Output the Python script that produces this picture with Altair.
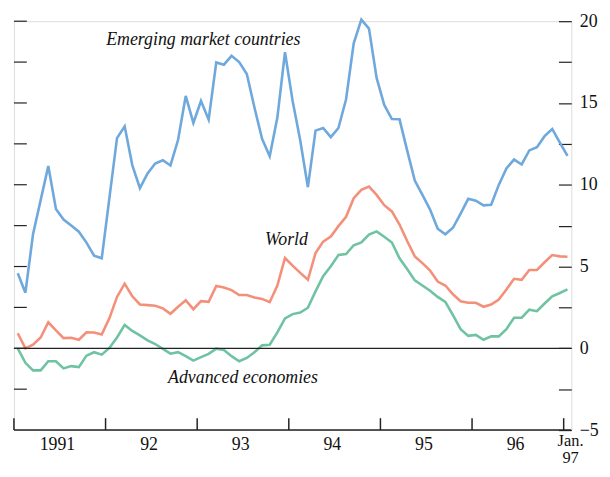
import altair as alt
import pandas as pd

# Monthly data, Jan 1991 .. Jan 1997 (73 months)
emerging = [4.59, 3.40, 6.97, 9.06, 11.15, 8.52, 7.87, 7.51, 7.13, 6.46, 5.66, 5.50,
            9.18, 12.85, 13.57, 11.20, 9.79, 10.69, 11.30, 11.50, 11.18, 12.75, 15.43, 13.78,
            15.12, 13.98, 17.48, 17.34, 17.88, 17.50, 16.77, 14.72, 12.81, 11.74, 14.11, 18.10,
            15.12, 12.71, 9.85, 13.31, 13.47, 12.91, 13.47, 15.23, 18.65, 20.10, 19.55, 16.53,
            14.88, 14.02, 14.00, 12.10, 10.25, 9.38, 8.48, 7.31, 6.97, 7.37, 8.24, 9.14,
            9.02, 8.74, 8.78, 9.99, 11.00, 11.54, 11.24, 12.10, 12.30, 12.97, 13.41, 12.57,
            11.76]
world = [0.92, 0.00, 0.22, 0.66, 1.59, 1.09, 0.62, 0.64, 0.52, 0.98, 0.97, 0.85,
         1.83, 3.14, 3.95, 3.18, 2.68, 2.64, 2.60, 2.44, 2.11, 2.54, 2.94, 2.39,
         2.88, 2.84, 3.81, 3.72, 3.56, 3.26, 3.26, 3.10, 3.02, 2.82, 3.84, 5.52,
         5.05, 4.61, 4.19, 5.82, 6.52, 6.83, 7.47, 8.04, 9.18, 9.69, 9.89, 9.38,
         8.75, 8.37, 7.57, 6.56, 5.62, 5.21, 4.75, 4.08, 3.84, 3.30, 2.88, 2.78,
         2.78, 2.54, 2.68, 2.98, 3.60, 4.25, 4.19, 4.79, 4.79, 5.26, 5.70, 5.62,
         5.60]
advanced = [0.00, -0.89, -1.35, -1.35, -0.79, -0.79, -1.23, -1.09, -1.15, -0.45, -0.24, -0.39,
            0.02, 0.66, 1.43, 1.06, 0.79, 0.48, 0.26, -0.04, -0.33, -0.24, -0.48, -0.75,
            -0.54, -0.34, -0.02, -0.10, -0.48, -0.79, -0.59, -0.24, 0.18, 0.22, 0.97, 1.83,
            2.09, 2.18, 2.48, 3.48, 4.41, 5.02, 5.70, 5.76, 6.30, 6.47, 6.95, 7.15,
            6.82, 6.47, 5.50, 4.85, 4.15, 3.84, 3.52, 3.14, 2.84, 2.03, 1.17, 0.76,
            0.82, 0.52, 0.73, 0.73, 1.17, 1.87, 1.87, 2.36, 2.27, 2.74, 3.18, 3.38,
            3.60]
series_names = ["Emerging market countries", "World", "Advanced economies"]
series_colors = ["#6fa8dc", "#f4907a", "#6fc3a2"]
year_labels = ["1991", "92", "93", "94", "95", "96"]
end_label = "Jan.\n97"
y_ticks = [-5, -2.5, 0, 2.5, 5, 7.5, 10, 12.5, 15, 17.5, 20]

rows = []
for name, vals in zip(series_names, [emerging, world, advanced]):
    for i, v in enumerate(vals):
        rows.append({"m": i + 0.5, "v": v, "s": name})
df = pd.DataFrame(rows)

W, H = 563, 413
xs = alt.Scale(domain=[0, 73], nice=False, zero=False)
ys = alt.Scale(domain=[-5, 20], nice=False, zero=False)
FONT = "Liberation Serif"

lines = alt.Chart(df).mark_line(strokeWidth=2.6).encode(
    x=alt.X("m:Q", scale=xs, axis=None),
    y=alt.Y("v:Q", scale=ys, axis=alt.Axis(
        orient="right", values=y_ticks, offset=-13, tickSize=13, domain=False,
        grid=False, tickColor="#222", tickWidth=1.2, labelPadding=8,
        labelFont=FONT, labelFontSize=18, labelColor="#111",
        labelExpr="datum.value % 5 === 0 ? datum.label : ''", title=None)),
    color=alt.Color("s:N", scale=alt.Scale(domain=series_names, range=series_colors), legend=None),
)

left_ticks = alt.Chart(pd.DataFrame({"v": y_ticks[1:]})).mark_rule(
    color="#222", strokeWidth=1.2).encode(
    y=alt.Y("v:Q", scale=ys), x=alt.value(0), x2=alt.value(13))

zero = alt.Chart(pd.DataFrame({"v": [0]})).mark_rule(color="#222", strokeWidth=1.2).encode(
    y=alt.Y("v:Q", scale=ys))
base = alt.Chart(pd.DataFrame({"v": [-5]})).mark_rule(color="#222", strokeWidth=1.5).encode(
    y=alt.Y("v:Q", scale=ys))

xt = pd.DataFrame({"m": [12 * k for k in range(7)]})
xticks = alt.Chart(xt).mark_rule(color="#222", strokeWidth=1.5).encode(
    x=alt.X("m:Q", scale=xs), y=alt.value(H - 12), y2=alt.value(H))

yl = pd.DataFrame({"m": [12 * k + 5.7 for k in range(len(year_labels))], "t": year_labels})
ylabels = alt.Chart(yl).mark_text(font=FONT, fontSize=18, color="#111", baseline="middle").encode(
    x=alt.X("m:Q", scale=xs), y=alt.value(H + 15), text="t:N")
jan = alt.Chart(pd.DataFrame({"m": [72.9], "t": [end_label]})).mark_text(
    font=FONT, fontSize=16.5, color="#111", baseline="top", lineBreak="\n", lineHeight=17).encode(
    x=alt.X("m:Q", scale=xs), y=alt.value(H + 3), text="t:N")

ann = pd.DataFrame({
    "m": [24.8, 35.7, 30.0],
    "v": [18.87, 6.6, -1.85],
    "t": ["Emerging market countries", "World", "Advanced economies"],
})
annot = alt.Chart(ann).mark_text(font=FONT, fontSize=18, fontStyle="italic", color="#111",
                                 baseline="middle").encode(
    x=alt.X("m:Q", scale=xs), y=alt.Y("v:Q", scale=ys), text="t:N")

chart = alt.layer(lines, zero, base, xticks, left_ticks, ylabels, jan, annot).properties(
    width=W, height=H,
    autosize=alt.AutoSizeParams(type="none"),
    padding={"left": 6, "top": 11, "right": 31, "bottom": 37},
).configure_view(stroke=None).configure(background="white")

chart.save("out.html", embed_options={"renderer": "svg", "actions": False})
